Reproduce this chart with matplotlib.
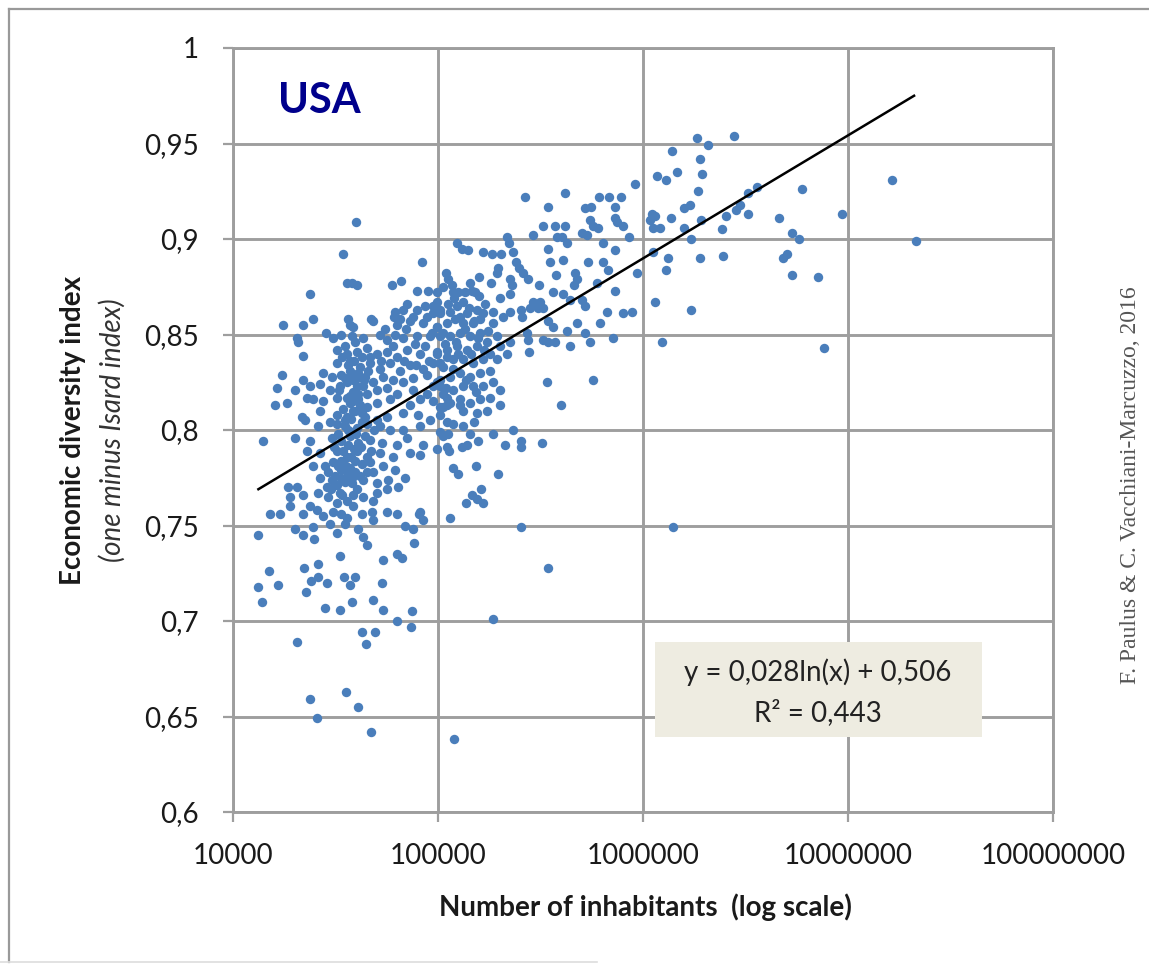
import matplotlib
matplotlib.use("Agg")
import matplotlib.pyplot as plt
from matplotlib.ticker import NullLocator
from matplotlib.patches import Rectangle
from matplotlib.lines import Line2D

plt.rcParams['font.family'] = ['Lato', 'DejaVu Sans']

# ---------------- data: (number of inhabitants, economic diversity index) ----------------
# upper-left part of the cloud (small towns, high diversity)
upper_left = [
    (39800, 0.909), (34400, 0.892), (83700, 0.888), (36000, 0.877), (38100, 0.877),
    (40300, 0.876), (59700, 0.876), (66100, 0.878), (79100, 0.873), (89500, 0.873),
    (23800, 0.871), (70700, 0.866), (28400, 0.851), (38500, 0.854), (36400, 0.858),
    (47200, 0.858), (61700, 0.862), (67600, 0.863), (79100, 0.863), (86500, 0.865),
    (94700, 0.861), (98900, 0.867), (102000, 0.863), (61000, 0.859), (75600, 0.859),
    (88500, 0.859), (65300, 0.858),
]

# cities of 100 000 - 1 000 000 inhabitants, upper part
mid_upper = [
    (916000, 0.929), (417000, 0.924), (266000, 0.922), (344000, 0.917), (610000, 0.922),
    (684000, 0.922), (782000, 0.922), (731000, 0.917), (522000, 0.916), (558000, 0.917),
    (731000, 0.911), (748000, 0.909), (800000, 0.907), (552000, 0.910), (571000, 0.907),
    (604000, 0.906), (325000, 0.907), (372000, 0.907), (417000, 0.907), (505000, 0.903),
    (533000, 0.902), (291000, 0.902), (217000, 0.901), (222000, 0.898), (381000, 0.901),
    (403000, 0.901), (426000, 0.898), (856000, 0.901), (124000, 0.898), (131000, 0.895),
    (140000, 0.894), (166000, 0.893), (184000, 0.892), (203000, 0.892), (344000, 0.895),
    (639000, 0.898), (731000, 0.894), (232000, 0.893), (352000, 0.888), (408000, 0.889),
    (540000, 0.888), (639000, 0.888), (676000, 0.884), (936000, 0.882), (240000, 0.888),
    (248000, 0.885), (260000, 0.882), (196000, 0.885), (194000, 0.882), (376000, 0.881),
    (158000, 0.880), (181000, 0.877), (225000, 0.879), (230000, 0.876), (275000, 0.879),
    (466000, 0.882), (477000, 0.879), (461000, 0.876), (597000, 0.877), (311000, 0.876),
    (731000, 0.873), (109000, 0.882), (112000, 0.879), (106000, 0.875), (117000, 0.876),
    (118000, 0.872), (125000, 0.872), (143000, 0.877), (147000, 0.873), (152000, 0.872),
    (200000, 0.869), (225000, 0.871), (364000, 0.872), (408000, 0.871), (441000, 0.868),
    (505000, 0.868), (522000, 0.865), (291000, 0.867), (315000, 0.867), (308000, 0.864),
    (325000, 0.864), (281000, 0.864), (668000, 0.862), (800000, 0.861), (885000, 0.862),
    (254000, 0.863), (257000, 0.859), (208000, 0.859), (225000, 0.862), (477000, 0.856),
    (617000, 0.856), (344000, 0.857), (364000, 0.854), (426000, 0.852), (522000, 0.851),
    (552000, 0.846), (715000, 0.848), (441000, 0.844), (325000, 0.847), (344000, 0.846),
    (372000, 0.846), (272000, 0.851), (275000, 0.847), (278000, 0.841), (340000, 0.825),
    (571000, 0.826),
]

# cities of 100 000 - 200 000 inhabitants, dense part
mid_dense = [
    (98600, 0.872), (94700, 0.865), (102000, 0.861), (112000, 0.866), (124000, 0.865),
    (132000, 0.867), (138000, 0.861), (155000, 0.863), (166000, 0.861), (160000, 0.858),
    (148000, 0.856), (132000, 0.856), (121000, 0.858), (111000, 0.856), (98600, 0.854),
    (93600, 0.851), (102000, 0.849), (114000, 0.849), (128000, 0.851), (143000, 0.849),
    (160000, 0.851), (175000, 0.852), (186000, 0.856), (194000, 0.849), (173000, 0.846),
    (155000, 0.844), (138000, 0.842), (124000, 0.844), (111000, 0.842), (98600, 0.840),
    (94700, 0.835), (106000, 0.833), (118000, 0.837), (132000, 0.837), (148000, 0.835),
    (166000, 0.837), (179000, 0.840), (200000, 0.844), (225000, 0.846), (217000, 0.840),
    (194000, 0.837), (179000, 0.831), (160000, 0.830), (143000, 0.828), (128000, 0.830),
    (114000, 0.828), (102000, 0.826), (94700, 0.823), (106000, 0.819), (118000, 0.821),
    (132000, 0.823), (148000, 0.823), (166000, 0.823), (186000, 0.825), (200000, 0.821),
    (179000, 0.817), (160000, 0.816), (143000, 0.814), (128000, 0.816), (114000, 0.814),
    (102000, 0.812), (132000, 0.810), (155000, 0.809), (173000, 0.810), (200000, 0.813),
    (115000, 0.862), (128000, 0.859), (142000, 0.864), (150000, 0.857), (136000, 0.853),
    (122000, 0.846), (108000, 0.845), (145000, 0.840), (168000, 0.842), (156000, 0.848),
    (118000, 0.832), (137000, 0.826), (153000, 0.820), (109000, 0.822), (125000, 0.840),
    (170000, 0.866), (185000, 0.862), (158000, 0.870), (135000, 0.872), (120000, 0.869),
]

# cities of 100 000 - 400 000 inhabitants, lower part
mid_lower = [
    (398000, 0.813), (232000, 0.800), (186000, 0.798), (143000, 0.798), (150000, 0.804),
    (132000, 0.802), (118000, 0.803), (157000, 0.794), (212000, 0.792), (254000, 0.794),
    (254000, 0.791), (321000, 0.793), (131000, 0.791), (138000, 0.792), (111000, 0.791),
    (113000, 0.789), (112000, 0.798), (102000, 0.799), (118000, 0.780), (125000, 0.777),
    (153000, 0.781), (196000, 0.777), (147000, 0.766), (162000, 0.769), (137000, 0.762),
    (166000, 0.762), (155000, 0.764), (114000, 0.754), (254000, 0.749), (344000, 0.728),
    (186000, 0.701), (120000, 0.638), (111000, 0.813), (128000, 0.813),
]

# small towns (15 000 - 100 000 inhabitants), dense core
small_core = [
    (17500, 0.855), (22000, 0.855), (24600, 0.858), (37200, 0.855), (48200, 0.857),
    (63200, 0.855), (73100, 0.857), (84600, 0.856), (98600, 0.854), (20500, 0.848),
    (20800, 0.846), (30800, 0.848), (33700, 0.850), (38100, 0.849), (43100, 0.848),
    (52200, 0.850), (56400, 0.847), (67600, 0.848), (79100, 0.849), (91600, 0.849),
    (106000, 0.851), (22000, 0.839), (32200, 0.842), (36000, 0.840), (40300, 0.841),
    (45100, 0.843), (50500, 0.840), (56400, 0.841), (63200, 0.838), (70700, 0.842),
    (81800, 0.840), (98600, 0.841), (111000, 0.838), (32200, 0.835), (37200, 0.836),
    (41700, 0.833), (46600, 0.835), (52200, 0.832), (58400, 0.835), (65300, 0.831),
    (73100, 0.834), (84600, 0.832), (102000, 0.835), (17300, 0.829), (27500, 0.830),
    (30400, 0.828), (33700, 0.829), (38500, 0.826), (44100, 0.828), (48200, 0.825),
    (54000, 0.828), (60400, 0.826), (67600, 0.825), (75600, 0.827), (88500, 0.829),
    (98600, 0.825), (16400, 0.822), (20100, 0.821), (22000, 0.826), (23800, 0.823),
    (26600, 0.824), (29700, 0.821), (33300, 0.823), (38500, 0.820), (43100, 0.823),
    (50500, 0.821), (56400, 0.822), (63200, 0.819), (75600, 0.821), (88500, 0.819),
    (102000, 0.823), (111000, 0.817), (18300, 0.814), (16000, 0.813), (23000, 0.817),
    (24600, 0.816), (27500, 0.815), (32200, 0.817), (37200, 0.814), (40800, 0.816),
    (45100, 0.812), (50500, 0.814), (58400, 0.816), (73100, 0.813), (81800, 0.816),
    (94700, 0.815), (106000, 0.812), (21700, 0.807), (22500, 0.805), (26600, 0.810),
    (32200, 0.808), (36000, 0.807), (39400, 0.810), (44100, 0.807), (50500, 0.805),
    (56400, 0.807), (67600, 0.809), (80000, 0.808), (91600, 0.805), (102000, 0.808),
    (26000, 0.802), (29700, 0.804), (35100, 0.802), (40300, 0.801), (45100, 0.803),
    (52200, 0.802), (58400, 0.800), (67600, 0.800), (81800, 0.802), (111000, 0.804),
    (20100, 0.796), (23800, 0.794), (30400, 0.796), (33700, 0.794), (37200, 0.797),
    (40800, 0.793), (46600, 0.795), (53200, 0.793), (63200, 0.792), (70700, 0.796),
    (84600, 0.792), (106000, 0.797), (23000, 0.789), (26600, 0.788), (32200, 0.789),
    (36000, 0.786), (40300, 0.789), (45100, 0.786), (52200, 0.788), (60400, 0.786),
    (73100, 0.788), (81800, 0.787), (98600, 0.790), (24600, 0.781), (28100, 0.781),
    (32500, 0.781), (37200, 0.780), (42600, 0.782), (48200, 0.778), (54000, 0.781),
    (61700, 0.779), (69100, 0.775), (26600, 0.775), (30400, 0.774), (33700, 0.775),
    (38100, 0.772), (43100, 0.774), (50500, 0.772), (57100, 0.774), (63900, 0.770),
    (18600, 0.770), (20500, 0.770), (19000, 0.765), (22000, 0.766), (26000, 0.767),
    (29100, 0.765), (33300, 0.767), (38500, 0.766), (43100, 0.765), (50500, 0.767),
    (56400, 0.769), (17000, 0.756), (19000, 0.760), (25700, 0.758), (30800, 0.757),
    (33700, 0.756), (38500, 0.760), (42600, 0.756), (47700, 0.757), (56400, 0.757),
    (63200, 0.756), (81800, 0.757),
    (55000, 0.853), (62000, 0.850), (70000, 0.853), (77000, 0.845), (86000, 0.844),
    (60000, 0.844), (53000, 0.836), (68000, 0.836), (78000, 0.834), (90000, 0.836),
]

# diagonal band of towns around 30 000 - 50 000 inhabitants
small_band = [
    (35100, 0.844), (39400, 0.846), (42600, 0.838), (46600, 0.838), (37200, 0.831),
    (40800, 0.830), (45600, 0.831), (36000, 0.825), (40300, 0.823), (45100, 0.819),
    (37200, 0.818), (41700, 0.813), (38500, 0.810), (35100, 0.805), (42600, 0.804),
    (38100, 0.799), (32500, 0.798), (36400, 0.792), (33700, 0.784), (39400, 0.784),
    (30800, 0.783), (36400, 0.777), (32200, 0.771), (41700, 0.776), (40300, 0.769),
    (36000, 0.763), (32200, 0.762), (28800, 0.770), (46600, 0.783), (48200, 0.763),
    (27500, 0.755), (36000, 0.754), (23800, 0.760), (22000, 0.756),
    (34000, 0.838), (36500, 0.834), (39000, 0.836), (41000, 0.828), (43500, 0.826),
    (38000, 0.829), (35000, 0.827), (33000, 0.821), (36000, 0.817), (38500, 0.815),
    (40500, 0.819), (42500, 0.809), (37500, 0.806), (34500, 0.811), (32000, 0.803),
    (36500, 0.800), (40000, 0.798), (44000, 0.797), (39000, 0.790), (42000, 0.791),
    (34500, 0.789), (31000, 0.791), (37500, 0.786), (35500, 0.781), (39500, 0.778),
    (33500, 0.779), (31500, 0.776), (35000, 0.773), (38000, 0.775), (30000, 0.769),
    (34000, 0.766), (29000, 0.778), (45000, 0.778), (47000, 0.789), (49000, 0.800),
]

# small towns with low diversity
small_low = [
    (14000, 0.794), (15200, 0.756), (13200, 0.745), (20100, 0.748), (22000, 0.745),
    (24600, 0.749), (24800, 0.743), (29700, 0.751), (32200, 0.746), (35100, 0.751),
    (40800, 0.748), (43100, 0.744), (45100, 0.740), (69100, 0.750), (75600, 0.748),
    (76200, 0.741), (81000, 0.756), (84600, 0.753), (48200, 0.753), (33400, 0.734),
    (54000, 0.732), (63200, 0.735), (66800, 0.733), (26000, 0.730), (22200, 0.728),
    (15000, 0.726), (13200, 0.718), (16600, 0.719), (13900, 0.710), (24000, 0.721),
    (26000, 0.723), (22700, 0.715), (28800, 0.720), (34800, 0.723), (39400, 0.723),
    (37200, 0.719), (53200, 0.720), (28100, 0.707), (33400, 0.706), (38100, 0.710),
    (48200, 0.711), (54000, 0.706), (74800, 0.705), (63200, 0.700), (74000, 0.697),
    (42600, 0.694), (49300, 0.694), (44600, 0.688), (20500, 0.689), (23800, 0.659),
    (35500, 0.663), (40800, 0.655), (25700, 0.649), (47100, 0.642),
]

# large metropolitan areas (over 1 000 000 inhabitants)
large = [
    (1835000, 0.953), (2780000, 0.954), (2076000, 0.949), (1385000, 0.946), (1895000, 0.942),
    (1465000, 0.935), (1940000, 0.934), (1170000, 0.933), (1295000, 0.931), (1855000, 0.925),
    (16400000, 0.931), (5970000, 0.926), (3600000, 0.927), (3250000, 0.924), (2970000, 0.918),
    (2840000, 0.915), (1695000, 0.918), (1585000, 0.916), (9360000, 0.913), (4610000, 0.911),
    (3250000, 0.913), (2540000, 0.912), (1106000, 0.913), (1144000, 0.912), (1082000, 0.910),
    (1119000, 0.906), (1210000, 0.906), (1370000, 0.911), (1920000, 0.910), (1585000, 0.906),
    (2430000, 0.905), (1715000, 0.900), (5330000, 0.903), (5770000, 0.900), (21500000, 0.899),
    (1119000, 0.893), (1324000, 0.890), (1895000, 0.890), (2457000, 0.891), (4820000, 0.890),
    (5040000, 0.892), (1295000, 0.884), (5330000, 0.881), (7150000, 0.880), (1144000, 0.867),
    (1715000, 0.863), (1240000, 0.846), (7650000, 0.843), (1400000, 0.749),
]

groups = [upper_left, mid_upper, mid_dense, mid_lower, small_core, small_band, small_low, large]
population = [p for g in groups for p, _ in g]
diversity = [d for g in groups for _, d in g]

# logarithmic trend line (as drawn) and its equation
trend_x = [13300, 21000000]
trend_y = [0.769, 0.975]
fit_slope = 0.028
fit_intercept = 0.506
fit_r2 = 0.443

x_ticks = [1e4, 1e5, 1e6, 1e7, 1e8]
x_tick_labels = ['10000', '100000', '1000000', '10000000', '100000000']
y_ticks = [0.6, 0.65, 0.7, 0.75, 0.8, 0.85, 0.9, 0.95, 1.0]
y_tick_labels = ['0,6', '0,65', '0,7', '0,75', '0,8', '0,85', '0,9', '0,95', '1']

# ---------------- figure ----------------
W, H = 1149, 964
fig = plt.figure(figsize=(W / 100, H / 100), dpi=100)
fig.patch.set_facecolor('white')
ax = fig.add_axes([233 / W, 1 - 812 / H, 820 / W, 764 / H])

ax.set_xscale('log')
ax.set_xlim(1e4, 1e8)
ax.set_ylim(0.6, 1.0)
ax.set_xticks(x_ticks)
ax.set_xticklabels(x_tick_labels)
ax.xaxis.set_minor_locator(NullLocator())
ax.set_yticks(y_ticks)
ax.set_yticklabels(y_tick_labels)

grid_col = '#9e9e9e'
ax.grid(True, color=grid_col, lw=2.1)
ax.set_axisbelow(True)
for s in ax.spines.values():
    s.set_color(grid_col)
    s.set_linewidth(2.1)
ax.tick_params(axis='both', which='major', length=7.5, width=1.6, color=grid_col,
               labelsize=20, labelcolor='#1a1a1a')
ax.tick_params(axis='y', pad=17)
ax.tick_params(axis='x', pad=15)

ax.scatter(population, diversity, s=46, color='#4a7ebb', linewidths=0, zorder=3)
ax.plot(trend_x, trend_y, color='black', lw=1.8, zorder=4)

ax.text(0.055, 0.9306, 'USA', transform=ax.transAxes, ha='left', va='center',
        fontsize=30, fontweight='bold', color='#00008c')

ax.set_xlabel('Number of inhabitants  (log scale)', fontsize=20, fontweight='bold', color='#1a1a1a')
ax.xaxis.set_label_coords(0.5024, -0.125)
ax.xaxis.label.set_verticalalignment('center')

ax.set_ylabel('Economic diversity index', fontsize=20, fontweight='bold', color='#1a1a1a')
ax.yaxis.set_label_coords(-0.195, 0.5)
ax.yaxis.label.set_verticalalignment('center')
ax.text(-0.1476, 0.5, '(one minus Isard index)', transform=ax.transAxes, rotation=90,
        rotation_mode='anchor', ha='center', va='center', fontsize=20, style='italic',
        color='#333333')

# equation box
fig.patches.append(Rectangle((655 / W, 1 - 737 / H), (982 - 655) / W, (737 - 642) / H,
                             transform=fig.transFigure, facecolor='#eeece1', edgecolor='none',
                             zorder=5))
eq_text = 'y = {:.3f}ln(x) + {:.3f}'.format(fit_slope, fit_intercept).replace('.', ',')
r2_text = 'R² = {:.3f}'.format(fit_r2).replace('.', ',')
fig.text(818 / W, 1 - 672 / H, eq_text, ha='center', va='center', fontsize=20, color='#222222', zorder=6)
fig.text(818 / W, 1 - 713 / H, r2_text, ha='center', va='center', fontsize=20, color='#222222', zorder=6)

# source credit
fig.text(1131 / W, 1 - 485 / H, 'F. Paulus & C. Vacchiani-Marcuzzo, 2016', rotation=90,
         ha='center', va='center', fontsize=17, family='Liberation Serif', color='#555555')

# outer frame
fig.add_artist(Line2D([9 / W, 1.0], [1 - 9 / H, 1 - 9 / H], transform=fig.transFigure,
                      color='#999999', lw=1.6))
fig.add_artist(Line2D([9 / W, 9 / W], [1 - 9 / H, 1 - 962 / H], transform=fig.transFigure,
                      color='#999999', lw=1.6))
fig.add_artist(Line2D([0.0, 0.52], [1 - 962 / H, 1 - 962 / H], transform=fig.transFigure,
                      color='#dddddd', lw=1.2))

fig.savefig('out.png', dpi=100)
